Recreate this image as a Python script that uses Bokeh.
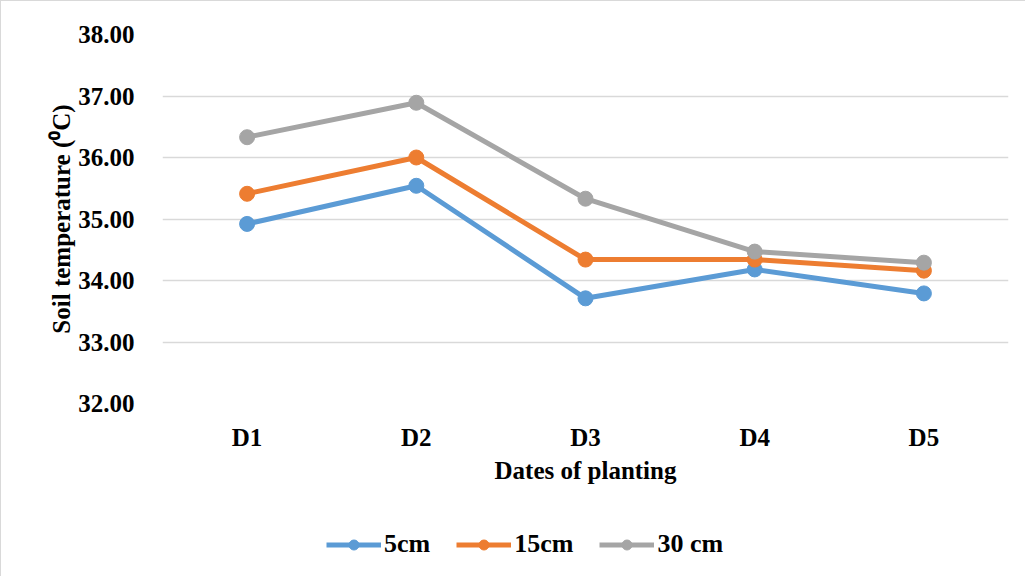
from bokeh.plotting import figure
from bokeh.layouts import column
from bokeh.models import Range1d, Legend, LegendItem, SingleIntervalTicker, NumeralTickFormatter
from bokeh.embed import file_html
from bokeh.resources import INLINE

categories = ["D1", "D2", "D3", "D4", "D5"]
s_5cm = [34.92, 35.54, 33.71, 34.18, 33.79]
s_15cm = [35.41, 36.00, 34.34, 34.34, 34.16]
s_30cm = [36.33, 36.89, 35.33, 34.47, 34.29]
series_names = ["5cm", "15cm", "30 cm"]
colors = ["#5B9BD5", "#ED7D31", "#A5A5A5"]

FONT = "Liberation Serif"
LW = 5
MS = 15

p = figure(x_range=categories, y_range=Range1d(32, 38), width=1025, height=499,
           output_backend="svg", toolbar_location=None,
           min_border_left=161, min_border_top=33, min_border_right=18, min_border_bottom=97)
p.styles = {"border-left": "1px solid #d9d9d9", "border-top": "1px solid #d9d9d9"}

p.outline_line_color = None
p.xgrid.grid_line_color = None
p.ygrid.grid_line_color = "#d9d9d9"
p.ygrid.grid_line_width = 1.5
p.yaxis.ticker = SingleIntervalTicker(interval=1)
p.yaxis.formatter = NumeralTickFormatter(format="0.00")

for ax in (p.xaxis[0], p.yaxis[0]):
    ax.axis_line_color = None
    ax.major_tick_line_color = None
    ax.minor_tick_line_color = None
    ax.major_label_text_font = FONT
    ax.major_label_text_font_style = "bold"
    ax.major_label_text_font_size = "25px"
    ax.major_label_text_color = "#000000"
    ax.axis_label_text_font = FONT
    ax.axis_label_text_font_style = "bold"
    ax.axis_label_text_font_size = "25px"
    ax.axis_label_text_color = "#000000"

p.xaxis.axis_label = "Dates of planting"
p.yaxis.axis_label = "Soil temperature (\u2070C)"
p.yaxis.major_label_standoff = 22
p.xaxis.major_label_standoff = 14
p.xaxis.axis_label_standoff = 3
p.yaxis.axis_label_standoff = 0

for name, vals, c in zip(series_names, [s_5cm, s_15cm, s_30cm], colors):
    p.line(categories, vals, line_color=c, line_width=LW)
    p.scatter(categories, vals, size=MS, fill_color=c, line_color=c)

# Legend strip below the chart (its renderers lie outside its visible range)
p2 = figure(width=1025, height=77, output_backend="svg", toolbar_location=None,
            x_axis_type=None, y_axis_type=None,
            x_range=Range1d(0, 1), y_range=Range1d(0, 1),
            min_border_left=0, min_border_right=0, min_border_top=0, min_border_bottom=0)
p2.styles = {"border-left": "1px solid #d9d9d9"}
p2.grid.visible = False
p2.outline_line_color = None

items = []
for name, vals, c in zip(series_names, [s_5cm, s_15cm, s_30cm], colors):
    xs = list(range(len(vals)))
    r1 = p2.line(xs, vals, line_color=c, line_width=LW)
    r2 = p2.scatter(xs, vals, size=MS, fill_color=c, line_color=c)
    items.append(LegendItem(label=name, renderers=[r1, r2]))

legend = Legend(items=items, orientation="horizontal", location=(164, 17),
                label_text_font=FONT, label_text_font_style="bold",
                label_text_font_size="26px", label_text_color="#000000",
                glyph_width=55, glyph_height=25, label_standoff=3, spacing=26,
                border_line_color=None, background_fill_alpha=0, padding=5, margin=0)
p2.add_layout(legend, "center")

layout = column(p, p2, spacing=0)
open("out.html", "w").write(file_html(layout, INLINE))
